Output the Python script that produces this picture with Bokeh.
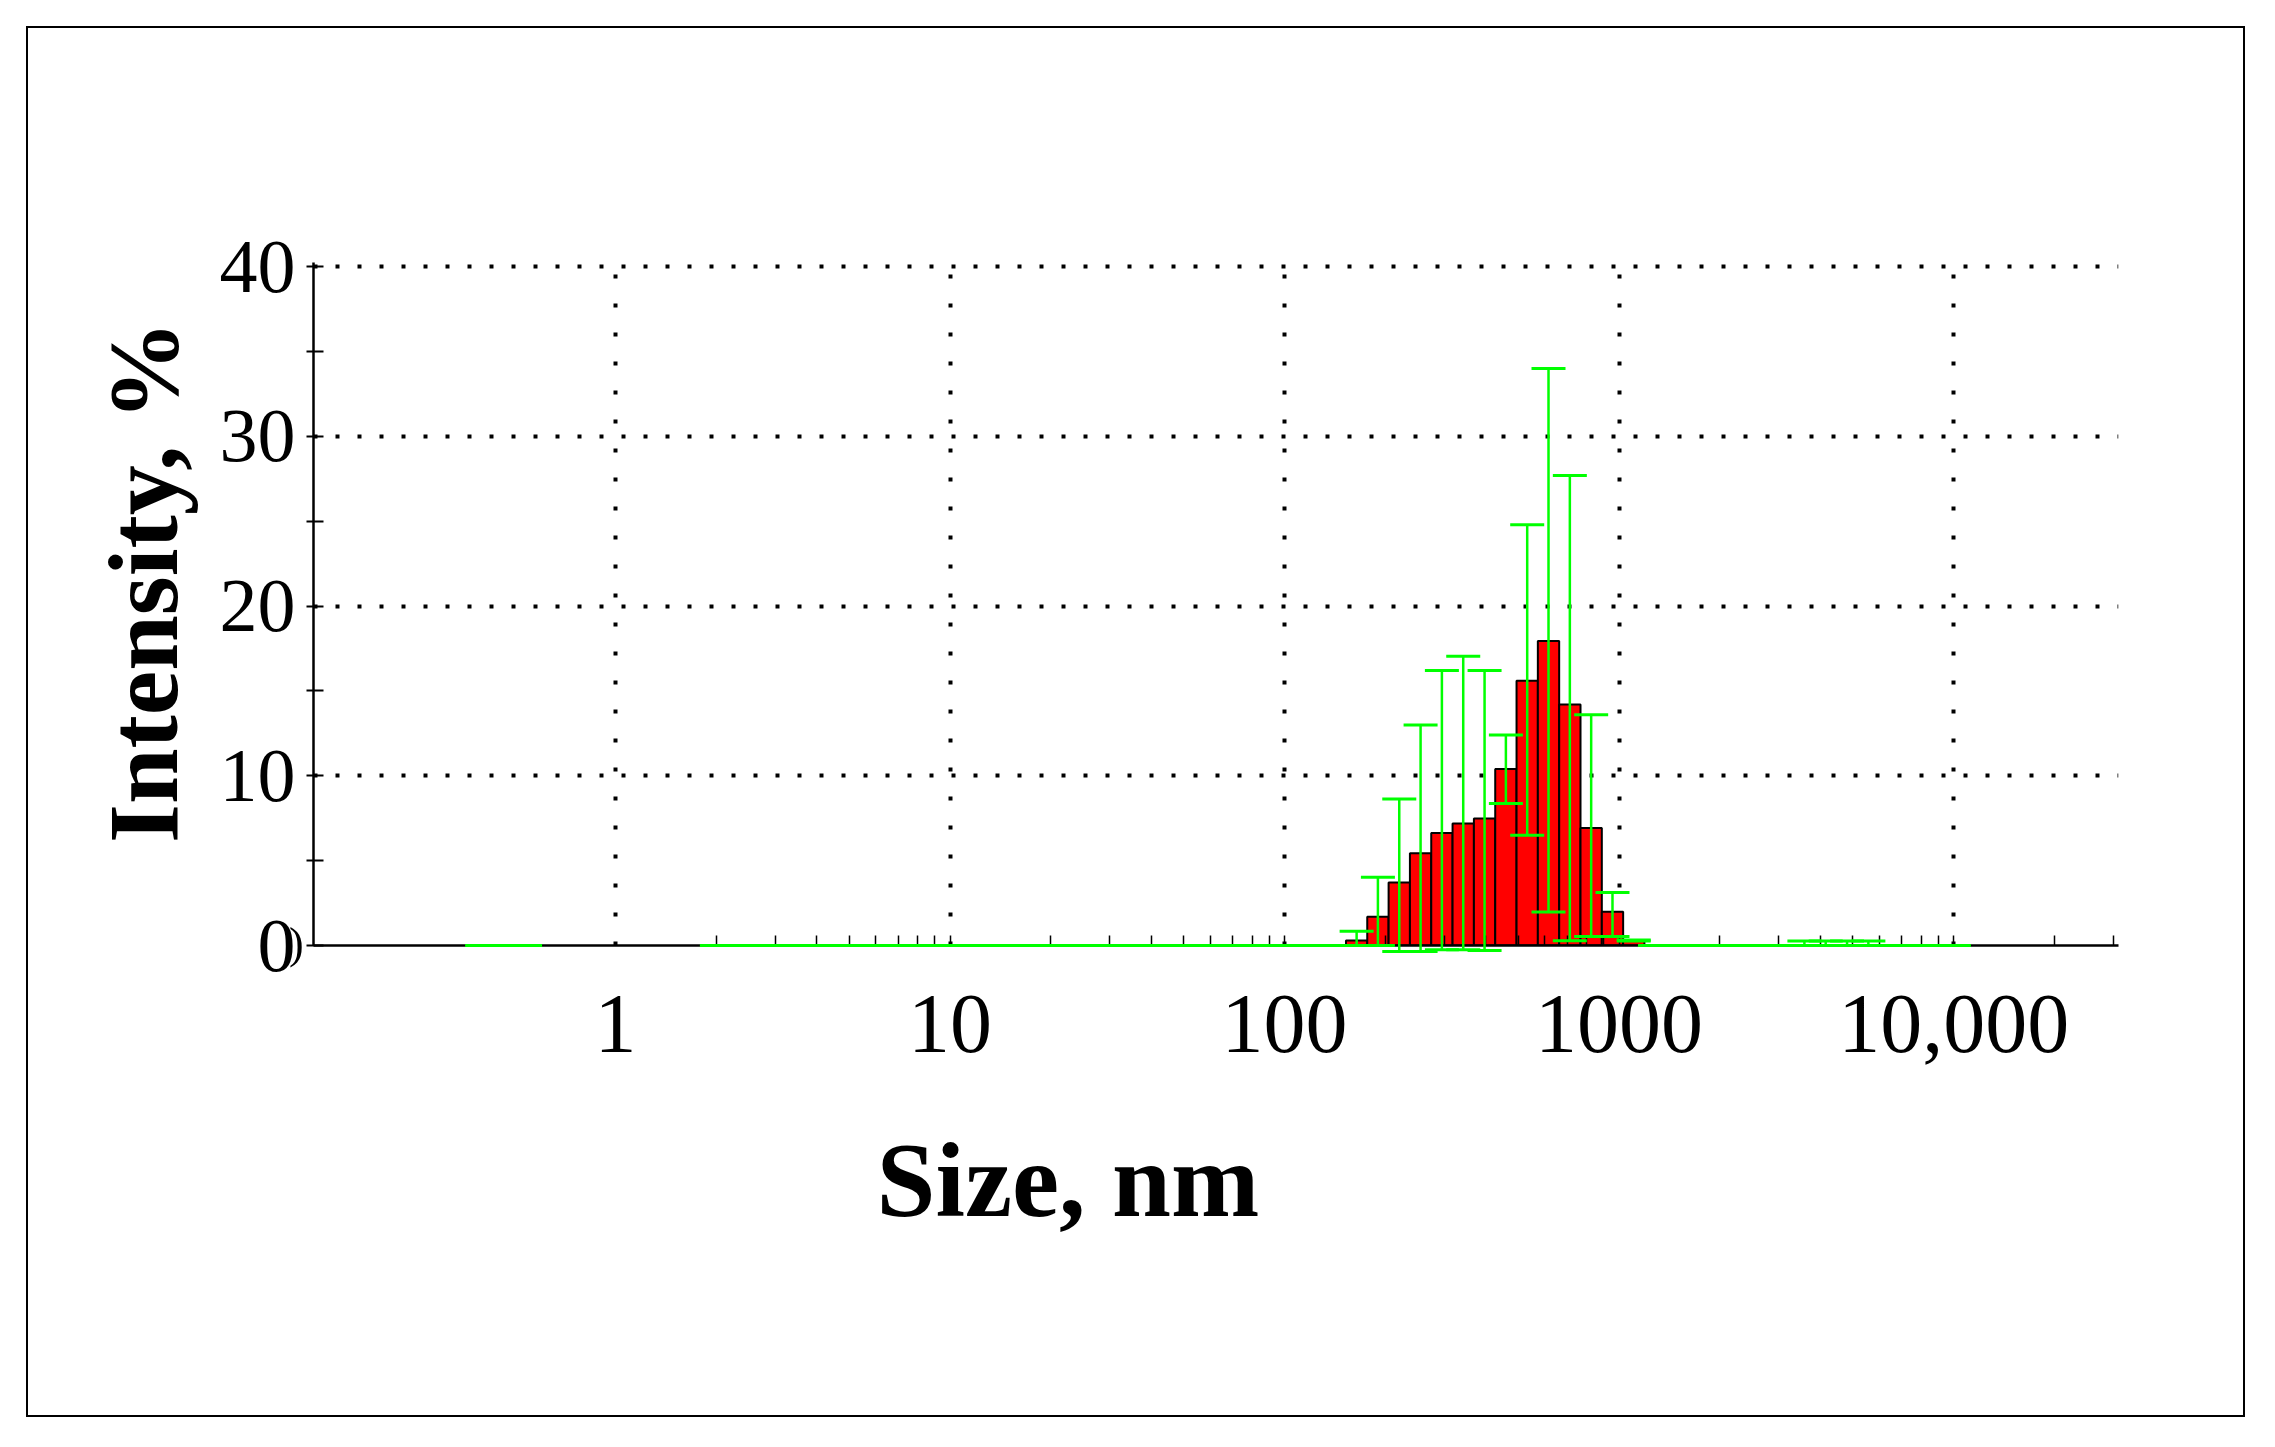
from bokeh.plotting import figure
from bokeh.models import Range1d, FixedTicker, Title, Div
from bokeh.layouts import column
from bokeh.embed import file_html
from bokeh.resources import INLINE

# ---------------- data ----------------
bar_sizes_nm = [164.2, 190.1, 220.2, 255.0, 295.3, 342.0, 396.1, 458.7,
                531.2, 615.1, 712.4, 825.0, 955.4, 1106]
intensity_pct = [0.29, 1.70, 3.72, 5.44, 6.63, 7.19, 7.49, 10.4,
                 15.6, 17.95, 14.2, 6.92, 1.99, 0.29]
err_upper_pct = [0.84, 4.02, 8.64, 13.0, 16.2, 17.05, 16.2, 12.4,
                 24.8, 34.0, 27.7, 13.6, 3.12, 0.33]
err_lower_pct = [0.0, 0.0, -0.35, -0.35, -0.25, -0.25, -0.3, 8.37,
                 6.5, 1.98, 0.28, 0.53, 0.53, 0.26]

zero_bins_nm = [0.4000, 0.4632, 0.5365,
                2.010, 2.328, 2.696, 3.122, 3.615, 4.187, 4.849, 5.615, 6.503,
                7.531, 8.721, 10.10, 11.70, 13.54, 15.69, 18.17, 21.04, 24.36,
                28.21, 32.67, 37.84, 43.82, 50.75, 58.77, 68.06, 78.82, 91.28,
                105.7, 122.4, 141.8,
                1281, 1484, 1718, 1990, 2305, 2669, 3091,
                6439, 7456, 8635, 10000]
tail_bins_nm = [3580, 4145, 4801, 5560]
tail_upper_pct = [0.27, 0.27, 0.27, 0.27]
tail_lower_pct = [0.0, 0.0, 0.0, 0.0]

x_tick_values = [1, 10, 100, 1000, 10000]
x_tick_labels = ["1", "10", "100", "1000", "10,000"]
x_minor_ticks = [m * 10 ** k for k in range(0, 5) for m in range(2, 10)] + [10, 100, 1000, 10000, 20000, 30000]
y_tick_values = [0, 10, 20, 30, 40]
y_minor_ticks = [5, 15, 25, 35]
y_grid_values = [10, 20, 30, 40]

x_title = "Size, nm"
y_title_html = "Intensity, &#37;"

RED = "#FF0000"
GREEN = "#00FF00"
SERIF = "Liberation Serif"

# ---------------- figure ----------------
p = figure(width=2219, height=1391,
           x_axis_type="log",
           x_range=Range1d(0.1251, 31100), y_range=Range1d(0, 40.25),
           output_backend="svg", toolbar_location=None,
           min_border_left=285, min_border_right=129,
           min_border_top=234, min_border_bottom=474,
           margin=(26, 0, 0, 26),
           styles={"border": "2px solid black"})
p.outline_line_color = None
p.background_fill_color = "white"
p.border_fill_color = "white"

# bars (log bins, edges at geometric mid-points)
half = (bar_sizes_nm[-1] / bar_sizes_nm[0]) ** (1.0 / (2 * (len(bar_sizes_nm) - 1)))
lefts = [s / half for s in bar_sizes_nm]
rights = [s * half for s in bar_sizes_nm]
p.quad(left=lefts, right=rights, bottom=0, top=intensity_pct,
       fill_color=RED, line_color="black", line_width=2)

# error bars: vertical stems + horizontal caps
base = bar_sizes_nm + zero_bins_nm + tail_bins_nm
upper = err_upper_pct + [0.0] * len(zero_bins_nm) + tail_upper_pct
lower = err_lower_pct + [0.0] * len(zero_bins_nm) + tail_lower_pct
stems = p.segment(x0=base, y0=lower, x1=base, y1=upper, line_color=GREEN, line_width=2.5)
caps = p.scatter(x=base + base, y=upper + lower, marker="dash", size=34, angle=0,
                 line_color=GREEN, line_width=3)
stems.level = "overlay"
caps.level = "overlay"

# x axis
xa = p.xaxis[0]
xt = FixedTicker(ticks=x_tick_values, minor_ticks=x_minor_ticks)
xa.ticker = xt
xa.major_label_overrides = {v: l for v, l in zip(x_tick_values, x_tick_labels)}
xa.major_tick_in = 0
xa.major_tick_out = 0
xa.minor_tick_in = 10
xa.minor_tick_out = 0
xa.minor_tick_line_color = "black"
xa.minor_tick_line_width = 1.5
xa.axis_line_color = "black"
xa.axis_line_width = 2.5
xa.major_label_text_font = SERIF
xa.major_label_text_font_size = "84px"
xa.major_label_text_color = "black"
xa.major_label_standoff = 50

# y axis
ya = p.yaxis[0]
ya.ticker = FixedTicker(ticks=y_tick_values, minor_ticks=y_minor_ticks)
ya.major_tick_in = 10
ya.major_tick_out = 7
ya.minor_tick_in = 10
ya.minor_tick_out = 7
ya.major_tick_line_width = 2
ya.minor_tick_line_width = 2
ya.major_tick_line_color = "black"
ya.minor_tick_line_color = "black"
ya.axis_line_color = "black"
ya.axis_line_width = 2.5
ya.major_label_text_font = SERIF
ya.major_label_text_font_size = "76px"
ya.major_label_text_color = "black"
ya.major_label_standoff = 11

# x axis title (side-panel title below the axis)
p.add_layout(Title(text=x_title, align="left", offset=563,
                   text_font=SERIF, text_font_style="bold",
                   text_font_size="106px", text_color="black",
                   standoff=131), "below")

# grids (dotted)
p.xgrid.ticker = xt
p.xgrid.grid_line_color = "black"
p.xgrid.grid_line_width = 4
p.xgrid.grid_line_dash = "4 25"
p.ygrid.ticker = FixedTicker(ticks=y_grid_values)
p.ygrid.grid_line_color = "black"
p.ygrid.grid_line_width = 4
p.ygrid.grid_line_dash = "4 18"

# y axis title (vertical, as HTML text) and the small bracket beside the zero label
html = (
    '<span style="position:fixed; left:94px; top:843px; transform-origin:0 0; '
    'transform:rotate(-90deg); white-space:nowrap; line-height:1; color:black; '
    "font-family:'Liberation Serif'; font-weight:bold; font-size:100px;\">"
    + y_title_html + "</span>"
    '<span style="position:fixed; left:289px; top:922px; white-space:nowrap; '
    "line-height:1; color:black; font-family:'Liberation Serif'; font-size:44px;\">)</span>"
)
div = Div(text=html, width=1, height=1, margin=0)

layout = column(p, div)
open("out.html", "w").write(file_html(layout, INLINE))
